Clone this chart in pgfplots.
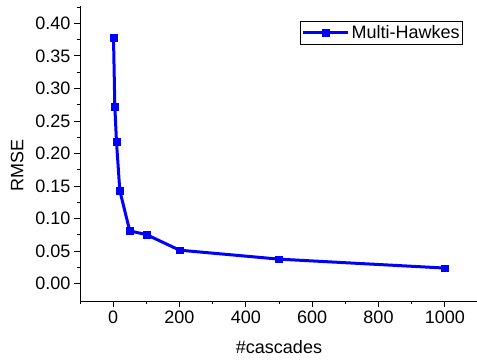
\documentclass[border=0pt]{standalone}
\usepackage{fontspec}
\setmainfont{Liberation Sans}
\usepackage{pgfplots}
\pgfplotsset{compat=1.18}
\begin{document}
\begin{tikzpicture}
\useasboundingbox (-80pt,-59pt) rectangle (397pt,301pt);
\begin{axis}[
  at={(0pt,0pt)}, anchor=south west,
  scale only axis, width=398pt, height=295pt,
  xmin=-100, xmax=1100, ymin=-0.0266, ymax=0.4265,
  axis lines=left, axis line style={-, line width=0.8pt, black},
  xtick={0,200,400,600,800,1000},
  minor xtick={-100,100,300,500,700,900,1100},
  ytick={0,0.05,0.1,0.15,0.2,0.25,0.3,0.35,0.4},
  minor ytick={0.025,0.075,0.125,0.175,0.225,0.275,0.325,0.375,0.425},
  yticklabel style={/pgf/number format/.cd, fixed, fixed zerofill, precision=2},
  xticklabel style={/pgf/number format/1000 sep={}},
  /pgf/number format/assume math mode=true,
  tick label style={font=\fontsize{18}{20}\selectfont},
  label style={font=\fontsize{18}{20}\selectfont},
  tick align=outside, major tick length=6pt, minor tick length=3pt,
  tick style={black, line width=0.8pt},
  xlabel={\#cascades}, ylabel={RMSE},
  xlabel style={at={(axis description cs:0.5,-0.156)}, anchor=center},
  ylabel style={at={(axis description cs:-0.158,0.458)}, anchor=center},
  legend style={at={(1,1)}, anchor=north east, xshift=-15pt, yshift=-15pt,
    draw=black, line width=0.8pt, font=\fontsize{18}{20}\selectfont,
    inner sep=1pt, nodes={inner xsep=2pt, inner ysep=3pt}},
  legend image code/.code={\draw[mark repeat=2,mark phase=2,#1] plot coordinates {(0pt,0pt)(22.5pt,0pt)(45pt,0pt)};},
]
\addplot[blue, line width=3pt, mark=square*, mark size=3.4pt, mark options={solid, line width=0.3pt}]
  coordinates {(1,0.378) (5,0.272) (10,0.218) (20,0.143) (50,0.081) (100,0.0755) (200,0.0515) (500,0.0377) (1000,0.024)};
\addlegendentry{Multi-Hawkes}
\end{axis}
\end{tikzpicture}
\end{document}
